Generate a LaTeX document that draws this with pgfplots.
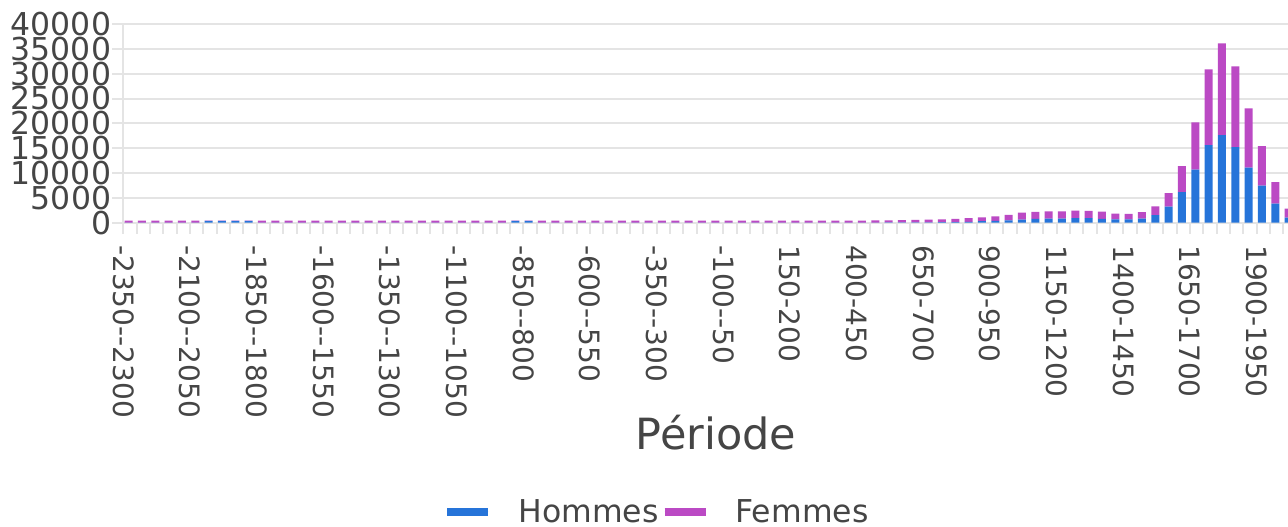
\documentclass[border=0pt]{standalone}
\usepackage{pgfplots}
\usepackage{pgfplotstable}
\pgfplotsset{compat=1.18}
\usepackage{fontspec}
\newfontfamily\dv{DejaVu Sans}
\definecolor{hommes}{HTML}{2674D9}
\definecolor{femmes}{HTML}{BB4AC4}
\definecolor{gridc}{HTML}{E4E4E4}
\definecolor{txt}{HTML}{454545}
\pgfplotstableread{
i h f
0 20 380
1 20 380
2 20 380
3 20 380
4 20 380
5 20 380
6 380 20
7 380 20
8 380 20
9 380 20
10 20 380
11 20 380
12 20 380
13 20 380
14 20 380
15 20 380
16 20 380
17 20 380
18 20 380
19 20 380
20 20 380
21 20 380
22 20 380
23 20 380
24 20 380
25 20 380
26 20 380
27 20 380
28 20 380
29 380 20
30 380 20
31 20 380
32 20 380
33 20 380
34 20 380
35 20 380
36 20 380
37 20 380
38 20 380
39 20 380
40 20 380
41 20 380
42 20 380
43 20 380
44 20 380
45 20 380
46 20 380
47 20 380
48 20 380
49 20 380
50 20 380
51 20 380
52 20 380
53 20 380
54 20 380
55 30 400
56 30 430
57 40 450
58 50 480
59 60 500
60 80 540
61 100 580
62 120 630
63 150 750
64 300 750
65 380 870
66 450 1150
67 600 1450
68 780 1420
69 800 1480
70 800 1480
71 920 1500
72 920 1480
73 750 1500
74 670 1180
75 670 1130
76 800 1350
77 1540 1750
78 3220 2750
79 6170 5230
80 10670 9530
81 15630 15240
82 17650 18450
83 15230 16240
84 11070 11930
85 7450 7980
86 3820 4370
87 1000 1820
}\data
\begin{document}
\begin{tikzpicture}
\useasboundingbox (0,0) rectangle (1288pt,527pt);
\begin{axis}[
  at={(123.3pt,304.3pt)}, anchor=south west,
  scale only axis, width=1164.7pt, height=198.7pt,
  xmin=0, xmax=87.35, ymin=0, ymax=40000,
  ybar stacked, bar width=0.6,
  axis x line*=bottom, axis y line*=left,
  axis line style={draw=gridc, line width=2pt, -},
  tick align=outside,
  major tick length=11pt, minor tick length=11pt,
  tick style={draw=gridc, line width=2pt},
  ymajorgrids, grid style={draw=gridc, line width=2pt},
  ytick={0,5000,...,40000},
  scaled y ticks=false,
  /pgf/number format/1000 sep={},
  /pgf/number format/assume math mode=true,
  xtick={0,5,...,85},
  minor xtick={0,...,87},
  xticklabels={-2350--2300,-2100--2050,-1850--1800,-1600--1550,-1350--1300,-1100--1050,-850--800,-600--550,-350--300,-100--50,150-200,400-450,650-700,900-950,1150-1200,1400-1450,1650-1700,1900-1950},
  xticklabel shift=8pt,
  xticklabel style={rotate=-90, anchor=west, font=\dv\fontsize{28}{34}\selectfont, text=txt},
  yticklabel style={font=\dv\fontsize{31.5}{36}\selectfont, text=txt, inner sep=1pt},
  xlabel={Période},
  xlabel style={at={(axis description cs:0.509,-1.058)}, anchor=center, font=\dv\fontsize{43}{50}\selectfont, text=txt},
  legend style={at={(axis description cs:0.4582,-1.455)}, anchor=center, draw=none, fill=none,
    font=\dv\fontsize{31.5}{36}\selectfont, text=txt,
    /tikz/every odd column/.append style={column sep=24pt},
    /tikz/every even column/.append style={column sep=0pt}},
  legend columns=2,
]
\addplot+[fill=hommes, draw=none, legend image code/.code={\draw[line width=8pt, draw=hommes] (0pt,0pt) -- (41pt,0pt);}]
  table[x expr=\thisrow{i}+0.4, y=h] {\data};
\addlegendentry{Hommes}
\addplot+[fill=femmes, draw=none, legend image code/.code={\draw[line width=8pt, draw=femmes] (0pt,0pt) -- (41pt,0pt);}]
  table[x expr=\thisrow{i}+0.4, y=f] {\data};
\addlegendentry{Femmes}
\end{axis}
\end{tikzpicture}
\end{document}
